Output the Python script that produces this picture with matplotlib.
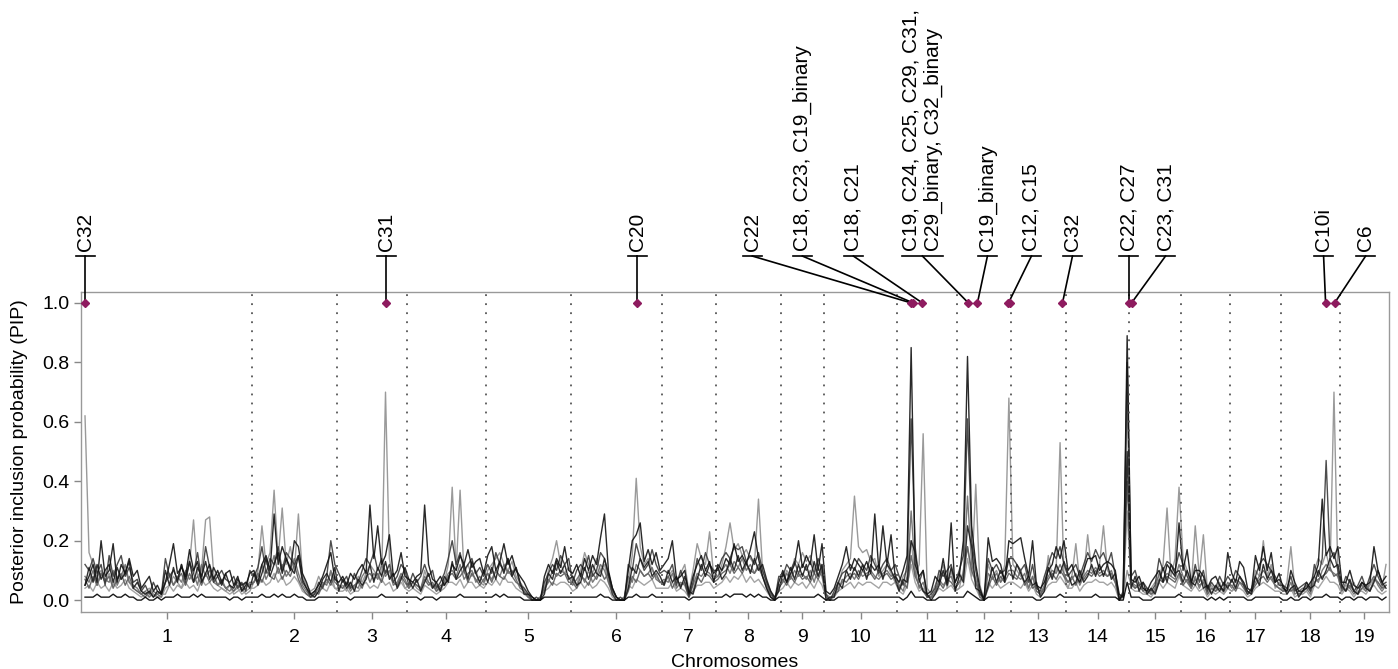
import numpy as np
import matplotlib.pyplot as plt

plt.rcParams['font.family'] = ['Liberation Sans', 'DejaVu Sans']

# chromosome lengths (Mb)
chrom_names = [str(i) for i in range(1, 20)]
chrom_len = [270, 136, 112, 126, 136, 146, 86, 104, 69, 117, 96, 86, 88, 101, 83, 78, 82, 94, 77]

# PIP per trait (x100), one row per chromosome, markers evenly spaced along each chromosome
pip_a = [
    [62, 16, 12, 8, 10, 6, 9, 5, 8, 7, 10, 6, 4, 3, 2, 3, 4, 2, 1, 2, 2, 5, 8, 6, 4, 9, 12, 27, 8, 10, 27, 28, 9, 5, 4, 3, 5, 2, 3, 4, 2, 3],
    [6, 10, 25, 12, 16, 37, 14, 31, 12, 18, 10, 29, 8, 5, 3, 4, 8, 5, 6, 9, 4],
    [4, 5, 3, 6, 4, 8, 6, 9, 12, 10, 8, 6, 70, 14, 6, 5, 8, 4],
    [5, 6, 4, 3, 10, 6, 4, 5, 3, 6, 12, 38, 10, 37, 9, 12, 8, 10, 6, 5],
    [10, 12, 14, 16, 12, 10, 13, 8, 6, 4, 2, 1, 0, 1, 4, 10, 14, 20, 12, 9, 11],
    [8, 5, 10, 16, 12, 9, 14, 10, 12, 6, 3, 1, 0, 1, 6, 15, 41, 18, 12, 14, 10, 8, 6],
    [5, 8, 10, 6, 9, 12, 3, 10, 19, 14, 12, 23, 8],
    [8, 12, 18, 26, 17, 19, 15, 17, 14, 12, 34, 10, 6, 2, 1, 4],
    [6, 10, 8, 14, 12, 16, 13, 15, 11, 8, 12],
    [2, 1, 1, 5, 10, 12, 14, 35, 18, 16, 17, 13, 14, 8, 10, 12, 9, 6],
    [4, 8, 10, 20, 8, 12, 56, 4, 2, 5, 8, 12, 4, 10, 3],
    [4, 10, 18, 8, 39, 5, 0, 12, 8, 10, 6, 12, 68],
    [12, 10, 8, 6, 4, 8, 3, 2, 4, 15, 8, 10, 53, 8],
    [4, 8, 19, 6, 8, 22, 10, 9, 12, 25, 10, 8, 6, 1, 2, 10],
    [5, 4, 6, 3, 2, 4, 6, 8, 12, 31, 8, 14, 38],
    [14, 10, 4, 25, 8, 22, 3, 5, 3, 6, 2, 4],
    [3, 5, 8, 6, 3, 2, 10, 8, 20, 8, 12, 4, 6],
    [3, 6, 18, 4, 2, 2, 3, 5, 10, 14, 12, 16, 10, 70, 8],
    [3, 5, 4, 6, 2, 4, 3, 5, 8, 6, 4, 12],
]
pip_b = [
    [5, 8, 12, 6, 20, 8, 10, 19, 6, 12, 9, 14, 8, 10, 4, 6, 8, 3, 5, 2, 6, 12, 19, 9, 11, 8, 17, 10, 13, 6, 9, 12, 7, 10, 6, 9, 10, 5, 8, 3, 5, 9],
    [10, 6, 12, 15, 10, 29, 12, 18, 14, 10, 20, 18, 9, 6, 2, 3, 5, 8, 12, 16, 7],
    [6, 8, 5, 9, 7, 10, 12, 9, 32, 14, 25, 12, 15, 22, 8, 10, 16, 8],
    [7, 6, 8, 9, 32, 12, 7, 6, 8, 5, 7, 12, 10, 15, 12, 17, 11, 13, 14, 9],
    [15, 18, 10, 13, 19, 12, 15, 10, 8, 6, 3, 1, 0, 0, 8, 12, 9, 14, 11, 18, 10],
    [9, 12, 8, 14, 10, 15, 12, 21, 29, 10, 4, 1, 0, 0, 10, 20, 22, 26, 13, 17, 12, 16, 10],
    [12, 14, 20, 7, 8, 10, 2, 8, 12, 15, 10, 13, 6],
    [12, 10, 14, 12, 19, 13, 15, 12, 17, 23, 14, 8, 4, 1, 0, 6],
    [10, 6, 9, 12, 20, 11, 15, 12, 22, 10, 19],
    [3, 2, 4, 8, 12, 18, 10, 14, 12, 10, 13, 9, 29, 10, 25, 12, 22, 8],
    [6, 10, 15, 85, 12, 8, 10, 2, 3, 8, 6, 14, 6, 26, 3],
    [8, 20, 82, 25, 12, 4, 0, 21, 13, 14, 12, 6, 20],
    [19, 20, 21, 14, 8, 20, 5, 4, 6, 10, 12, 18, 14, 20],
    [10, 12, 8, 6, 10, 14, 14, 15, 10, 12, 13, 12, 10, 0, 2, 89],
    [7, 6, 8, 4, 3, 6, 8, 10, 6, 12, 10, 8, 26],
    [10, 17, 6, 10, 10, 8, 4, 7, 8, 5, 3, 16],
    [9, 6, 13, 11, 4, 3, 15, 10, 18, 10, 16, 6, 9],
    [4, 3, 10, 6, 3, 3, 4, 6, 8, 12, 34, 15, 18, 14, 18],
    [6, 6, 10, 5, 4, 6, 5, 6, 18, 10, 6, 8],
]
pip_c = [
    [12, 10, 14, 9, 12, 5, 15, 8, 12, 15, 8, 11, 6, 7, 3, 5, 2, 6, 3, 2, 14, 8, 10, 7, 12, 6, 13, 9, 16, 7, 18, 11, 6, 8, 10, 7, 6, 8, 4, 6, 3, 10],
    [8, 11, 18, 9, 14, 12, 18, 10, 16, 14, 12, 15, 6, 4, 1, 2, 6, 4, 8, 20, 12],
    [9, 6, 8, 4, 9, 6, 10, 14, 12, 16, 10, 14, 9, 12, 6, 8, 12, 10],
    [5, 9, 6, 8, 12, 8, 10, 4, 6, 9, 14, 20, 12, 16, 10, 12, 14, 9, 11, 8],
    [12, 9, 16, 12, 10, 14, 9, 11, 5, 4, 2, 0, 1, 0, 6, 9, 12, 10, 15, 12, 14],
    [6, 10, 12, 10, 15, 8, 10, 16, 14, 8, 2, 0, 1, 0, 12, 10, 19, 14, 10, 12, 17, 12, 9],
    [10, 9, 12, 5, 10, 6, 1, 6, 14, 10, 16, 12, 10],
    [10, 14, 16, 14, 18, 17, 18, 13, 15, 12, 16, 10, 6, 3, 0, 8],
    [8, 12, 10, 13, 9, 12, 10, 13, 9, 14, 10],
    [2, 0, 3, 6, 9, 10, 12, 10, 14, 12, 10, 15, 12, 9, 12, 14, 10, 12],
    [8, 5, 12, 61, 18, 6, 10, 1, 2, 4, 10, 8, 10, 12, 6],
    [10, 15, 61, 20, 10, 2, 1, 14, 10, 12, 9, 10, 14],
    [14, 12, 10, 12, 6, 12, 4, 3, 8, 12, 16, 14, 18, 12],
    [8, 10, 12, 8, 12, 16, 13, 17, 14, 16, 12, 16, 8, 0, 3, 80],
    [8, 10, 5, 6, 4, 3, 5, 14, 10, 13, 12, 10, 16],
    [12, 8, 5, 12, 6, 10, 3, 6, 4, 8, 5, 8],
    [6, 10, 8, 5, 2, 4, 8, 12, 14, 12, 10, 8, 5],
    [5, 4, 8, 3, 4, 5, 6, 3, 12, 8, 14, 47, 14, 16, 10],
    [4, 8, 6, 3, 5, 8, 4, 8, 12, 8, 5, 6],
]
pip_d = [
    [8, 6, 10, 5, 9, 7, 6, 10, 5, 8, 12, 6, 5, 4, 2, 3, 1, 3, 2, 1, 6, 9, 5, 8, 6, 10, 7, 9, 5, 12, 8, 10, 6, 5, 7, 4, 3, 5, 6, 3, 4, 6],
    [6, 8, 12, 7, 10, 15, 9, 12, 8, 10, 14, 9, 5, 3, 1, 2, 4, 6, 5, 10, 6],
    [5, 4, 6, 3, 5, 4, 8, 10, 6, 9, 7, 12, 8, 10, 5, 6, 9, 7],
    [4, 6, 5, 4, 8, 6, 5, 3, 4, 6, 9, 10, 8, 12, 7, 9, 10, 6, 8, 6],
    [9, 7, 10, 8, 12, 9, 10, 7, 4, 3, 1, 0, 0, 1, 4, 6, 10, 8, 10, 9, 8],
    [5, 7, 9, 6, 10, 6, 8, 12, 10, 6, 2, 0, 0, 1, 8, 6, 12, 10, 8, 9, 11, 7, 6],
    [7, 6, 9, 4, 6, 5, 1, 5, 9, 8, 10, 9, 7],
    [8, 10, 12, 9, 13, 11, 14, 10, 12, 9, 11, 8, 4, 1, 0, 5],
    [6, 9, 7, 10, 8, 9, 7, 10, 6, 11, 8],
    [1, 0, 2, 4, 6, 8, 9, 7, 10, 8, 9, 10, 8, 7, 9, 10, 8, 9],
    [5, 3, 8, 30, 10, 4, 6, 1, 1, 3, 7, 5, 7, 8, 4],
    [6, 9, 35, 12, 7, 1, 0, 9, 7, 9, 6, 8, 10],
    [10, 8, 7, 9, 4, 8, 3, 2, 5, 8, 10, 9, 12, 9],
    [6, 7, 9, 5, 8, 10, 9, 11, 9, 10, 8, 10, 6, 0, 2, 70],
    [6, 5, 4, 4, 3, 2, 4, 9, 7, 9, 8, 7, 12],
    [8, 6, 4, 8, 4, 7, 2, 4, 3, 5, 3, 6],
    [4, 7, 6, 4, 2, 3, 6, 8, 10, 8, 7, 5, 4],
    [3, 3, 6, 2, 3, 4, 4, 2, 8, 6, 10, 12, 10, 9, 8],
    [3, 6, 4, 2, 4, 5, 3, 6, 8, 5, 3, 5],
]
pip_e = [
    [4, 5, 3, 6, 4, 5, 3, 6, 4, 5, 7, 4, 3, 2, 1, 2, 1, 2, 1, 1, 4, 5, 3, 5, 4, 6, 4, 5, 3, 7, 5, 6, 4, 3, 4, 3, 2, 3, 4, 2, 3, 4],
    [4, 5, 7, 5, 6, 9, 6, 8, 5, 6, 8, 6, 3, 2, 1, 1, 3, 4, 3, 6, 4],
    [3, 3, 4, 2, 3, 3, 5, 6, 4, 5, 4, 7, 5, 6, 3, 4, 6, 4],
    [3, 4, 3, 2, 5, 4, 3, 2, 3, 4, 6, 6, 5, 7, 4, 6, 6, 4, 5, 4],
    [6, 5, 7, 5, 8, 6, 6, 4, 3, 2, 1, 0, 0, 1, 3, 4, 6, 5, 6, 6, 5],
    [3, 4, 6, 4, 6, 4, 5, 7, 6, 4, 1, 0, 0, 1, 5, 4, 7, 6, 5, 6, 7, 4, 4],
    [4, 4, 6, 3, 4, 3, 1, 3, 5, 5, 6, 6, 4],
    [5, 6, 8, 6, 8, 7, 9, 6, 8, 6, 7, 5, 3, 1, 0, 3],
    [4, 6, 4, 6, 5, 6, 4, 6, 4, 7, 5],
    [1, 0, 1, 3, 4, 5, 6, 4, 6, 5, 6, 6, 5, 4, 6, 6, 5, 6],
    [3, 2, 5, 12, 6, 3, 4, 1, 1, 2, 4, 3, 4, 5, 3],
    [4, 5, 14, 7, 4, 1, 0, 6, 4, 6, 4, 5, 6],
    [6, 5, 4, 6, 3, 5, 2, 1, 3, 5, 6, 6, 8, 6],
    [4, 4, 6, 3, 5, 6, 6, 7, 6, 6, 5, 6, 4, 0, 1, 30],
    [4, 3, 3, 2, 2, 1, 3, 6, 4, 6, 5, 4, 8],
    [5, 4, 3, 5, 3, 4, 1, 3, 2, 3, 2, 4],
    [3, 4, 4, 3, 1, 2, 4, 5, 6, 5, 4, 3, 3],
    [2, 2, 4, 1, 2, 3, 3, 1, 5, 4, 6, 8, 6, 6, 5],
    [2, 4, 3, 1, 3, 3, 2, 4, 5, 3, 2, 3],
]
pip_f = [
    [1, 1, 1, 2, 1, 1, 1, 2, 1, 1, 2, 1, 1, 0, 0, 1, 0, 0, 1, 0, 1, 1, 1, 2, 1, 1, 1, 2, 1, 2, 1, 1, 1, 1, 1, 1, 0, 1, 1, 0, 1, 1],
    [1, 1, 2, 1, 1, 2, 1, 2, 1, 1, 2, 1, 1, 0, 0, 0, 1, 1, 1, 1, 1],
    [1, 1, 1, 0, 1, 1, 1, 1, 1, 1, 1, 2, 1, 1, 1, 1, 1, 1],
    [1, 1, 1, 0, 1, 1, 1, 0, 1, 1, 1, 1, 1, 2, 1, 1, 1, 1, 1, 1],
    [1, 1, 2, 1, 2, 1, 1, 1, 1, 0, 0, 0, 0, 0, 1, 1, 1, 1, 1, 1, 1],
    [1, 1, 1, 1, 1, 1, 1, 2, 1, 1, 0, 0, 0, 0, 1, 1, 2, 1, 1, 1, 2, 1, 1],
    [1, 1, 1, 1, 1, 1, 0, 1, 1, 1, 1, 1, 1],
    [1, 1, 2, 1, 2, 2, 2, 1, 2, 1, 2, 1, 1, 0, 0, 1],
    [1, 1, 1, 1, 1, 1, 1, 1, 1, 2, 1],
    [0, 0, 0, 1, 1, 1, 1, 1, 1, 1, 1, 1, 1, 1, 1, 1, 1, 1],
    [1, 0, 1, 3, 1, 1, 1, 0, 0, 0, 1, 1, 1, 1, 1],
    [1, 1, 3, 2, 1, 0, 0, 1, 1, 1, 1, 1, 1],
    [1, 1, 1, 1, 1, 1, 0, 0, 1, 1, 1, 1, 2, 1],
    [1, 1, 1, 1, 1, 1, 1, 2, 1, 1, 1, 1, 1, 0, 0, 6],
    [1, 1, 1, 0, 0, 0, 1, 1, 1, 1, 1, 1, 2],
    [1, 1, 1, 1, 1, 1, 0, 1, 0, 1, 0, 1],
    [1, 1, 1, 1, 0, 0, 1, 1, 1, 1, 1, 1, 1],
    [0, 0, 1, 0, 0, 1, 1, 0, 1, 1, 1, 2, 1, 1, 1],
    [0, 1, 1, 0, 1, 1, 0, 1, 1, 1, 0, 1],
]
pip_g = [
    [5, 11, 6, 12, 7, 10, 12, 6, 11, 7, 9, 13, 4, 6, 3, 2, 3, 1, 3, 2, 10, 5, 11, 6, 12, 7, 13, 6, 11, 8, 13, 7, 11, 8, 5, 9, 5, 4, 7, 5, 6, 4],
    [9, 5, 9, 14, 8, 12, 16, 9, 14, 11, 9, 15, 7, 4, 2, 1, 3, 7, 9, 6, 11],
    [3, 7, 4, 6, 3, 7, 5, 7, 12, 6, 11, 8, 13, 7, 9, 4, 7, 11],
    [7, 4, 7, 3, 6, 9, 4, 6, 3, 8, 6, 13, 7, 10, 12, 7, 13, 9, 6, 10],
    [6, 11, 7, 13, 9, 14, 8, 11, 6, 2, 2, 1, 0, 0, 2, 9, 7, 13, 9, 12, 7],
    [8, 5, 6, 11, 7, 12, 9, 8, 14, 9, 4, 1, 0, 0, 4, 11, 9, 14, 11, 13, 8, 10, 8],
    [5, 10, 6, 8, 4, 8, 3, 2, 7, 12, 8, 12, 9],
    [11, 7, 9, 14, 10, 15, 10, 13, 9, 14, 10, 12, 7, 3, 1, 3],
    [9, 6, 11, 7, 12, 8, 12, 7, 13, 8, 12],
    [0, 1, 1, 6, 4, 10, 7, 11, 8, 12, 7, 12, 10, 12, 7, 12, 10, 7],
    [3, 7, 6, 20, 16, 7, 3, 2, 0, 2, 5, 10, 5, 11, 6],
    [9, 6, 25, 18, 4, 3, 0, 5, 11, 6, 10, 7, 14],
    [7, 12, 9, 6, 8, 5, 6, 1, 3, 11, 7, 12, 9, 13],
    [9, 5, 6, 10, 6, 8, 12, 8, 12, 8, 12, 7, 9, 2, 1, 50],
    [4, 8, 3, 6, 2, 4, 2, 6, 11, 6, 12, 9, 10],
    [6, 10, 6, 5, 9, 4, 5, 2, 5, 3, 6, 4],
    [7, 4, 8, 6, 3, 2, 8, 5, 12, 7, 10, 6, 7],
    [5, 2, 4, 5, 1, 3, 6, 4, 5, 10, 7, 10, 14, 11, 12],
    [5, 3, 7, 3, 2, 6, 4, 3, 6, 10, 6, 4],
]
pip_h = [
    [7, 4, 8, 5, 9, 6, 8, 4, 7, 9, 5, 8, 4, 3, 2, 1, 3, 1, 2, 3, 6, 8, 5, 7, 9, 5, 9, 6, 8, 5, 9, 6, 8, 5, 6, 4, 5, 3, 5, 4, 6, 5],
    [6, 9, 6, 10, 8, 7, 11, 7, 10, 8, 12, 7, 4, 2, 1, 3, 2, 5, 7, 5, 8],
    [5, 4, 6, 4, 5, 6, 4, 8, 9, 7, 9, 6, 10, 8, 6, 5, 8, 6],
    [4, 6, 5, 4, 7, 5, 6, 3, 5, 5, 8, 9, 7, 8, 10, 6, 9, 7, 5, 7],
    [9, 6, 10, 8, 7, 10, 8, 6, 5, 3, 1, 0, 0, 1, 3, 7, 5, 9, 8, 9, 6],
    [6, 4, 8, 7, 5, 9, 7, 10, 7, 9, 3, 1, 0, 0, 3, 8, 6, 10, 8, 9, 7, 9, 6],
    [6, 8, 4, 7, 5, 6, 2, 3, 8, 6, 9, 8, 6],
    [7, 9, 10, 12, 9, 11, 9, 12, 10, 9, 12, 8, 5, 2, 0, 4],
    [7, 5, 8, 6, 9, 7, 8, 6, 9, 7, 10],
    [1, 0, 2, 3, 7, 6, 8, 9, 7, 10, 8, 9, 7, 10, 8, 9, 7, 8],
    [4, 6, 4, 15, 8, 5, 3, 1, 1, 3, 6, 4, 7, 6, 4],
    [6, 8, 18, 10, 6, 2, 0, 4, 8, 5, 8, 6, 9],
    [8, 7, 10, 5, 7, 4, 5, 2, 4, 7, 9, 7, 10, 8],
    [6, 8, 5, 8, 7, 9, 8, 10, 8, 9, 8, 9, 6, 1, 1, 40],
    [6, 4, 5, 3, 4, 2, 3, 7, 6, 8, 7, 6, 9],
    [5, 7, 4, 7, 5, 6, 2, 4, 3, 4, 3, 5],
    [5, 3, 6, 5, 2, 3, 5, 7, 8, 6, 8, 5, 4],
    [3, 4, 3, 4, 2, 3, 5, 3, 6, 7, 8, 9, 11, 8, 9],
    [4, 3, 5, 3, 2, 4, 5, 3, 7, 6, 4, 5],
]

# variants with PIP = 1 (chromosome, position in Mb)
hit_chrom = [1, 3, 6, 11, 11, 11, 12, 12, 12, 12, 13, 14, 15, 18, 18]
hit_pos = [3.2, 78.8, 106.4, 22.8, 26.0, 40.4, 18.0, 32.4, 82.0, 85.2, 82.4, 100.0, 3.8, 71.2, 85.6]
hit_pip = [1.0] * 15

label_text = ['C32', 'C31', 'C20', 'C22', 'C18, C23, C19_binary', 'C18, C21',
              'C19, C24, C25, C29, C31,\nC29_binary, C32_binary', 'C19_binary',
              'C12, C15', 'C32', 'C22, C27', 'C23, C31', 'C10i', 'C6']
label_hit = [0, 1, 2, 3, 4, 5, 6, 7, 8, 10, 11, 12, 13, 14]
# where the label sits along the genome (Mb)
label_x = [3.2, 484.8, 886.4, 1070.4, 1150.4, 1232, 1342.4, 1446.4, 1516.8, 1582.4, 1672, 1731.2, 1984, 2051.2]

chrom_start = np.concatenate([[0], np.cumsum(chrom_len)[:-1]])
chrom_mid = chrom_start + np.array(chrom_len) / 2
genome_len = sum(chrom_len)


def genome_xy(series):
    xs, ys = [], []
    for c, vals in enumerate(series):
        n = len(vals)
        xs.append(chrom_start[c] + (np.arange(n) + 0.5) * chrom_len[c] / n)
        ys.append(np.array(vals) / 100)
    return np.concatenate(xs), np.concatenate(ys)


fig = plt.figure(figsize=(13.98, 6.69), dpi=100)
ax = fig.add_axes([81 / 1398, 1 - 612 / 669, 1308 / 1398, 320 / 669])

draw_order = [pip_a, pip_e, pip_h, pip_d, pip_c, pip_g, pip_f, pip_b]
draw_cols = ['#8f8f8f', '#9a9a9a', '#5a5a5a', '#6a6a6a', '#3a3a3a', '#1a1a1a', '#000000', '#111111']
for series, col in zip(draw_order, draw_cols):
    x, y = genome_xy(series)
    ax.plot(x, y, color=col, lw=1.0, alpha=0.9, zorder=2)

for b in chrom_start[1:]:
    ax.axvline(b, color='#555555', lw=1.3, linestyle=(0, (1, 4)), zorder=3)

hit_x = np.array([chrom_start[c - 1] + p for c, p in zip(hit_chrom, hit_pos)])
ax.plot(hit_x, hit_pip, linestyle='none', marker='D', ms=4.2, color='#8e1b5f', zorder=5, clip_on=False)

ax.set_xlim(-3.2, genome_len + 1.6)
ax.set_ylim(-0.04, 1.037)
ax.set_yticks(np.arange(0, 1.01, 0.2))
ax.set_yticklabels([f'{v:.1f}' for v in np.arange(0, 1.01, 0.2)])
ax.set_xticks(chrom_mid)
ax.set_xticklabels(chrom_names)
ax.tick_params(axis='both', colors='#888888', labelcolor='black', labelsize=14, length=5, width=1)
ax.tick_params(axis='x', pad=7)
for sp in ax.spines.values():
    sp.set_color('#999999')
    sp.set_linewidth(1)
ax.set_xlabel('Chromosomes', fontsize=14, labelpad=6)
ax.set_ylabel('Posterior inclusion probability (PIP)', fontsize=14, labelpad=10)

# labels above the panel
y_seg = 1.158
texts = []
for txt, lx in zip(label_text, label_x):
    t = ax.text(lx, y_seg + 0.018, txt, rotation=90, ha='center', va='bottom',
                fontsize=15, linespacing=1.2, multialignment='left', clip_on=False)
    texts.append(t)
fig.canvas.draw()
inv = ax.transData.inverted()
renderer = fig.canvas.get_renderer()
for t, lx, h in zip(texts, label_x, label_hit):
    bb = t.get_window_extent(renderer)
    x0 = inv.transform((bb.x0, bb.y0))[0]
    x1 = inv.transform((bb.x1, bb.y0))[0]
    ax.plot([x0, x1], [y_seg, y_seg], color='black', lw=1.2, clip_on=False, zorder=4)
    ax.plot([lx, hit_x[h]], [y_seg, hit_pip[h]], color='black', lw=1.2, clip_on=False, zorder=4)

fig.savefig('out.png', dpi=100)
